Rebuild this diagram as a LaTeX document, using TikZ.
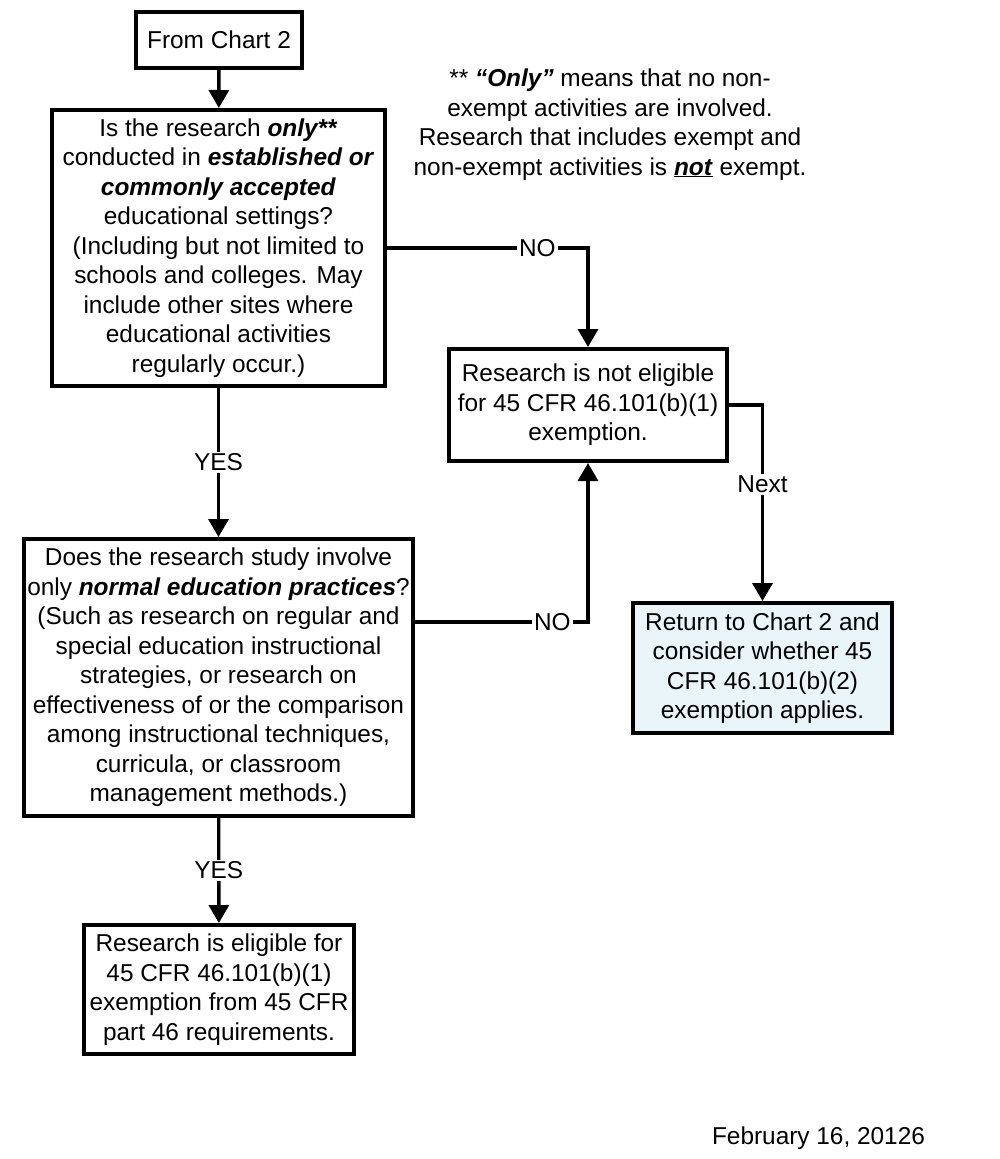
\documentclass[tikz,border=0pt]{standalone}
\usepackage{fontspec}
\setmainfont{Liberation Sans}
\usetikzlibrary{arrows.meta}
\definecolor{paleblue}{RGB}{234,245,249}
\newcommand{\bi}[1]{\textbf{\textit{#1}}}
\begin{document}
\begin{tikzpicture}[x=1pt,y=-1pt,
  txt/.style={font=\fontsize{24.4}{29.5}\selectfont},
  box/.style={txt, draw, line width=4pt, align=center, inner sep=0pt},
  conn/.style={line width=3.4pt, -{Triangle[width=20pt,length=18pt]}},
  lbl/.style={txt, fill=white, inner sep=2pt}]
\useasboundingbox (0,0) rectangle (1000,1159);

\node[box, minimum width=166pt, minimum height=56pt] (start) at (219,40) {From Chart 2};
\node[box, minimum width=333pt, minimum height=276pt] (q1) at (218.5,248)
  {Is the research \bi{only**}\\ conducted in \bi{established or}\\ \bi{commonly accepted}\\ educational settings?\\ (Including but not limited to\\ schools and colleges. May\\ include other sites where\\ educational activities\\ regularly occur.)};
\node[box, minimum width=278pt, minimum height=112pt] (ne) at (588,405)
  {Research is not eligible\\ for 45 CFR 46.101(b)(1)\\ exemption.};
\node[box, minimum width=389pt, minimum height=277pt] (q2) at (218.5,677.5)
  {Does the research study involve\\ only \bi{normal education practices}?\\ (Such as research on regular and\\ special education instructional\\ strategies, or research on\\ effectiveness of or the comparison\\ among instructional techniques,\\ curricula, or classroom\\ management methods.)};
\node[box, minimum width=270pt, minimum height=129pt] (el) at (219,989.5)
  {Research is eligible for\\ 45 CFR 46.101(b)(1)\\ exemption from 45 CFR\\ part 46 requirements.};
\node[box, fill=paleblue, minimum width=259pt, minimum height=130pt] (ret) at (762.5,668)
  {Return to Chart 2 and\\ consider whether 45\\ CFR 46.101(b)(2)\\ exemption applies.};

\node[txt, align=center] (note) at (610,124.5)
  {** \bi{“Only”} means that no non-\\ exempt activities are involved.\\ Research that includes exempt and\\ non-exempt activities is \underline{\bi{not}} exempt.};
\node[txt] (date) at (818.5,1138) {February 16, 20126};

\draw[conn] (start) -- (q1);
\draw[conn] (q1.east) -| node[lbl, pos=0.374] {NO} (ne.north);
\draw[conn] (q1) -- node[lbl] {YES} (q2);
\draw[conn] ([yshift=55.5pt]q2.east) -| node[lbl, pos=0.397] {NO} (ne.south);
\draw[conn] (ne.east) -| node[lbl, pos=0.702] {Next} (ret.north);
\draw[conn] (q2) -- node[lbl] {YES} (el);
\end{tikzpicture}
\end{document}
